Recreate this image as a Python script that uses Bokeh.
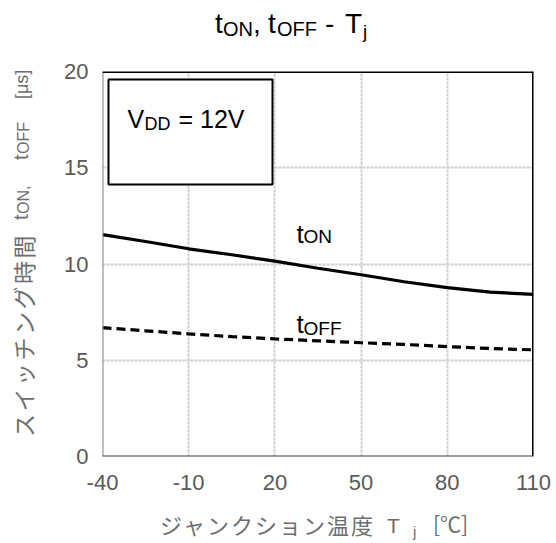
from bokeh.plotting import figure
from bokeh.models import (Range1d, FixedTicker, Label, Span, BoxAnnotation, Div)
from bokeh.layouts import column, row
from bokeh.embed import file_html
from bokeh.resources import INLINE

# ---------------- data ----------------
tj = [-40, -25, -10, 5, 20, 35, 50, 65, 80, 95, 110]
t_on = [11.53, 11.17, 10.79, 10.48, 10.15, 9.78, 9.44, 9.08, 8.77, 8.54, 8.42]
t_off = [6.69, 6.53, 6.37, 6.23, 6.11, 6.01, 5.91, 5.82, 5.71, 5.61, 5.54]
x_ticks = [-40, -10, 20, 50, 80, 110]
y_ticks = [0, 5, 10, 15, 20]

XMIN, XMAX = -40, 110
YMIN, YMAX = 0, 20

# page layout (px)
PAGE_W = 556
TOP_H = 56          # title strip
LEFT_W = 46         # y-label strip
BOT_H = 42          # x-label strip
PLOT_W = PAGE_W - LEFT_W
PLOT_H = 500 - TOP_H
FRAME_L, FRAME_R, FRAME_T, FRAME_B = 102, 533, 71, 456   # frame on the page

p = figure(width=PLOT_W, height=PLOT_H, output_backend="svg", toolbar_location=None,
           x_range=Range1d(XMIN, XMAX), y_range=Range1d(YMIN, YMAX),
           min_border_left=FRAME_L - LEFT_W, min_border_right=PLOT_W - (FRAME_R - LEFT_W),
           min_border_top=FRAME_T - TOP_H, min_border_bottom=PLOT_H - (FRAME_B - TOP_H))
p.outline_line_color = None
p.background_fill_color = "white"
p.border_fill_color = "white"

for ax in (p.xaxis[0], p.yaxis[0]):
    ax.axis_line_color = None
    ax.major_tick_line_color = None
    ax.minor_tick_line_color = None
    ax.major_label_text_font = "Liberation Sans"
    ax.major_label_text_font_size = "22px"
    ax.major_label_text_color = "#595959"
p.xaxis[0].ticker = FixedTicker(ticks=x_ticks)
p.yaxis[0].ticker = FixedTicker(ticks=y_ticks)
p.xaxis[0].major_label_overrides = {t: str(t) for t in x_ticks}
p.yaxis[0].major_label_overrides = {t: str(t) for t in y_ticks}
p.xaxis[0].major_label_standoff = 12
p.yaxis[0].major_label_standoff = 8

for g in (p.xgrid[0], p.ygrid[0]):
    g.grid_line_color = "#cfcfcf"
    g.grid_line_width = 2
    g.grid_line_dash = "3 1"
p.xgrid[0].ticker = FixedTicker(ticks=x_ticks)
p.ygrid[0].ticker = FixedTicker(ticks=y_ticks)

# curves
p.line(tj, t_on, line_color="black", line_width=3.2)
p.line(tj, t_off, line_color="black", line_width=3.2, line_dash="9 5")

# frame borders
p.add_layout(Span(location=XMIN, dimension="height", line_color="#808080", line_width=2))
p.add_layout(Span(location=YMIN, dimension="width", line_color="#404040", line_width=2))
p.add_layout(Span(location=YMAX, dimension="width", line_color="black", line_width=3))
p.add_layout(Span(location=XMAX, dimension="height", line_color="black", line_width=3))


# annotations inside the frame: screen units measured from the frame's bottom-left
def fx(px):
    return px - FRAME_L


def fy(py):
    return FRAME_B - py


p.add_layout(BoxAnnotation(left=fx(108), right=fx(272), top=fy(79), bottom=fy(184),
                           left_units="screen", right_units="screen",
                           top_units="screen", bottom_units="screen",
                           fill_color="white", fill_alpha=1.0,
                           line_color="black", line_alpha=1.0, line_width=2))


def add(text, px, py, size):
    p.add_layout(Label(x=fx(px), y=fy(py), x_units="screen", y_units="screen",
                       text=text, text_font="Liberation Sans",
                       text_font_size=f"{size}px", text_align="left",
                       text_baseline="alphabetic", text_color="black"))


add("t", 296, 233, 26)
add("ON", 303, 236, 19)
add("t", 296, 323, 26)
add("OFF", 303, 328, 19)
add("V", 127, 118, 25)
add("DD", 144, 123, 18)
add("= 12V", 178, 118, 25)

LAT = "font-family:'Liberation Sans',Arial,sans-serif;"
JP = "font-family:'Noto Sans CJK JP',sans-serif;"
GRAY = "#6e6e6e"


def piece(text, left, top, size, font=LAT, extra=""):
    return (f"<span style=\"position:absolute;left:{left}px;top:{top}px;"
            f"font-size:{size}px;line-height:{size}px;white-space:nowrap;{font}{extra}\">"
            f"{text}</span>")


def top_for(baseline, size):
    return round(baseline - 0.8465 * size)


# ---- title (baseline ~ page y 34) ----
title_html = (
    f"<div style=\"position:relative;width:{PAGE_W}px;height:{TOP_H}px;color:#000;\">"
    + piece("t", 215, top_for(34, 28), 28)
    + piece("ON", 223, top_for(36, 20), 20)
    + piece(",", 253, top_for(34, 28), 28)
    + piece("t", 268, top_for(34, 28), 28)
    + piece("OFF", 277, top_for(36, 20), 20)
    + piece("-", 325, top_for(34, 28), 28)
    + piece("T", 345, top_for(34, 28), 28)
    + piece("j", 363, top_for(38, 19), 19)
    + "</div>"
)
title_div = Div(text=title_html, width=PAGE_W, height=TOP_H, margin=0)

# ---- y label (rotated, reading upward, starting at page y 437) ----
ylab_html = (
    f"<div style=\"position:relative;width:{LEFT_W}px;height:{PLOT_H}px;color:{GRAY};\">"
    f"<div style=\"position:absolute;left:13px;top:{437 - TOP_H}px;width:380px;height:26px;"
    f"transform-origin:0 0;transform:rotate(-90deg);\">"
    + piece("スイッチング時間", 0, -1, 23, JP, "letter-spacing:2.5px;")
    + piece("t", 217, top_for(15, 20), 20)
    + piece("ON,", 223, top_for(17, 16), 16)
    + piece("t", 277, top_for(15, 20), 20)
    + piece("OFF", 283, top_for(17, 16), 16)
    + piece("[μs]", 338, top_for(15, 18), 18)
    + "</div></div>"
)
ylab_div = Div(text=ylab_html, width=LEFT_W, height=PLOT_H, margin=0)

# ---- x label (page y offset 500) ----
xo = 500
xlab_html = (
    f"<div style=\"position:relative;width:{PAGE_W}px;height:{BOT_H}px;color:{GRAY};\">"
    + piece("ジャンクション温度", 160, 513 - xo, 22, JP, "letter-spacing:2px;")
    + piece("T", 387, top_for(533 - xo, 21), 21)
    + piece("j", 413, top_for(537 - xo, 15), 15)
    + piece("[℃]", 433, 513 - xo, 21, JP)
    + "</div>"
)
xlab_div = Div(text=xlab_html, width=PAGE_W, height=BOT_H, margin=0)

layout = column(title_div, row(ylab_div, p, spacing=0), xlab_div, spacing=0)

open("out.html", "w").write(file_html(layout, INLINE))
